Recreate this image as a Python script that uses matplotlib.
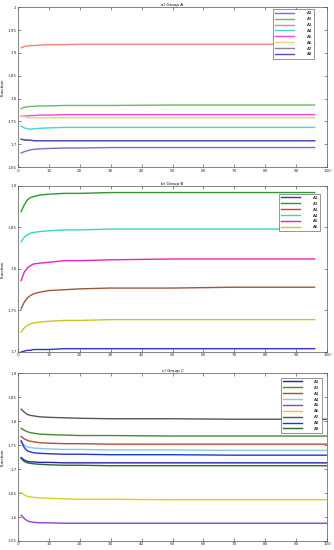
import numpy as np
import matplotlib
matplotlib.use('Agg')
import matplotlib.pyplot as plt
from matplotlib.ticker import FuncFormatter, MultipleLocator

# sample positions (iterations)
x_ab = [1, 2, 3, 4, 5, 7, 10, 15, 20, 30, 50, 70, 96]
x_c = [1, 2, 3, 4, 5, 7, 10, 15, 20, 30, 50, 70, 100]

# a) Group A
a_A1 = [1.681, 1.684, 1.686, 1.688, 1.689, 1.690, 1.691, 1.692, 1.692, 1.693, 1.693, 1.693, 1.693]
a_A2 = [1.778, 1.781, 1.782, 1.783, 1.783, 1.784, 1.784, 1.785, 1.785, 1.785, 1.786, 1.786, 1.786]
a_A3 = [1.911, 1.914, 1.915, 1.916, 1.916, 1.917, 1.918, 1.918, 1.919, 1.919, 1.919, 1.919, 1.919]
a_A4 = [1.740, 1.736, 1.734, 1.733, 1.734, 1.735, 1.736, 1.737, 1.737, 1.737, 1.737, 1.737, 1.737]
a_A5 = [1.761, 1.762, 1.762, 1.763, 1.763, 1.764, 1.764, 1.765, 1.765, 1.765, 1.765, 1.765, 1.765]
a_A6 = [1.763, 1.760, 1.759, 1.758, 1.758, 1.758, 1.758, 1.758, 1.758, 1.758, 1.758, 1.758, 1.758]
a_A7 = [1.711, 1.710, 1.709, 1.709, 1.708, 1.708, 1.708, 1.708, 1.708, 1.708, 1.708, 1.708, 1.708]
a_A8 = [1.711, 1.710, 1.709, 1.709, 1.708, 1.708, 1.708, 1.708, 1.708, 1.708, 1.708, 1.708, 1.708]

# b) Group B
b_A1 = [1.700, 1.701, 1.702, 1.702, 1.703, 1.703, 1.703, 1.704, 1.704, 1.704, 1.704, 1.704, 1.704]
b_A2 = [1.869, 1.877, 1.883, 1.886, 1.887, 1.889, 1.890, 1.891, 1.891, 1.892, 1.892, 1.892, 1.892]
b_A3 = [1.752, 1.760, 1.765, 1.768, 1.770, 1.772, 1.774, 1.775, 1.776, 1.777, 1.777, 1.778, 1.778]
b_A4 = [1.833, 1.838, 1.841, 1.843, 1.844, 1.845, 1.846, 1.847, 1.847, 1.848, 1.848, 1.848, 1.848]
b_A5 = [1.786, 1.796, 1.801, 1.804, 1.806, 1.807, 1.808, 1.810, 1.810, 1.811, 1.812, 1.812, 1.812]
b_A6 = [1.724, 1.729, 1.732, 1.734, 1.735, 1.736, 1.737, 1.738, 1.738, 1.739, 1.739, 1.739, 1.739]

# c) Group C
c_A1 = [1.724, 1.719, 1.716, 1.715, 1.715, 1.714, 1.714, 1.713, 1.713, 1.713, 1.713, 1.713, 1.713]
c_A2 = [1.785, 1.781, 1.778, 1.776, 1.775, 1.773, 1.772, 1.771, 1.770, 1.770, 1.769, 1.769, 1.769]
c_A3 = [1.768, 1.763, 1.760, 1.758, 1.757, 1.755, 1.754, 1.753, 1.753, 1.752, 1.752, 1.752, 1.752]
c_A4 = [1.757, 1.750, 1.746, 1.745, 1.744, 1.743, 1.742, 1.741, 1.741, 1.740, 1.740, 1.739, 1.739]
c_A5 = [1.604, 1.597, 1.592, 1.590, 1.589, 1.588, 1.588, 1.587, 1.587, 1.587, 1.587, 1.587, 1.587]
c_A6 = [1.651, 1.646, 1.643, 1.642, 1.641, 1.640, 1.639, 1.638, 1.637, 1.637, 1.636, 1.636, 1.636]
c_A7 = [1.825, 1.819, 1.814, 1.812, 1.811, 1.809, 1.808, 1.807, 1.806, 1.805, 1.805, 1.804, 1.804]
c_A8 = [1.759, 1.745, 1.738, 1.736, 1.734, 1.733, 1.732, 1.731, 1.731, 1.730, 1.730, 1.729, 1.729]
c_A9 = [1.722, 1.716, 1.713, 1.712, 1.711, 1.710, 1.709, 1.708, 1.708, 1.707, 1.707, 1.707, 1.707]

series_a = [('A1', a_A1, '#7070d0'), ('A2', a_A2, '#66bb66'), ('A3', a_A3, '#ff7f7f'),
            ('A4', a_A4, '#44d8c8'), ('A5', a_A5, '#ff44cc'), ('A6', a_A6, '#ead27a'),
            ('A7', a_A7, '#888888'), ('A8', a_A8, '#5050b8')]
series_b = [('A1', b_A1, '#3333cc'), ('A2', b_A2, '#2e9a2e'), ('A3', b_A3, '#9a5a3a'),
            ('A4', b_A4, '#33d8c0'), ('A5', b_A5, '#ee22bb'), ('A6', b_A6, '#c8c820')]
legend_b_colors = ['#3333cc', '#2e9a2e', '#ee3333', '#33d8c0', '#ee22bb', '#c8c820']
series_c = [('A1', c_A1, '#2222aa'), ('A2', c_A2, '#4a8a2a'), ('A3', c_A3, '#b05030'),
            ('A4', c_A4, '#88c8e8'), ('A5', c_A5, '#8844cc'), ('A6', c_A6, '#d8d020'),
            ('A7', c_A7, '#555555'), ('A8', c_A8, '#2233dd'), ('A9', c_A9, '#2a6a2a')]

fig = plt.figure(figsize=(3.34, 5.5), dpi=100)
fs = 3
lw = 1.0


def style_axis(ax, title, ylim):
    ax.set_xlim(0, 100)
    ax.set_ylim(*ylim)
    ax.xaxis.set_major_locator(MultipleLocator(10))
    ax.yaxis.set_major_locator(MultipleLocator(0.05))
    ax.yaxis.set_major_formatter(FuncFormatter(lambda v, p: '%g' % round(v, 3)))
    ax.tick_params(direction='in', top=True, right=True, length=2, width=0.4,
                   labelsize=fs, pad=1, colors='#333333')
    for sp in ax.spines.values():
        sp.set_linewidth(0.5)
        sp.set_color('#555555')
    ax.set_title(title, fontsize=fs, pad=1)
    ax.set_ylabel('Function', fontsize=fs, labelpad=2)


def add_legend(ax, handles, labels, anchor):
    leg = ax.legend(handles, labels, loc='upper right', bbox_to_anchor=anchor, fontsize=fs,
                    handlelength=4.5, handletextpad=3, labelspacing=0.45, borderpad=0.5,
                    fancybox=False, edgecolor='#444444', framealpha=1)
    leg.get_frame().set_linewidth(0.4)


axA = fig.add_axes([0.054, 0.696, 0.925, 0.291])
for name, vals, col in series_a:
    axA.plot(x_ab, vals, color=col, lw=lw)
style_axis(axA, 'a) Group A', (1.65, 2.0))
add_legend(axA, [plt.Line2D([], [], color=s[2], lw=lw) for s in series_a],
           [s[0] for s in series_a], (0.965, 1.0))

axB = fig.add_axes([0.054, 0.36, 0.925, 0.302])
for name, vals, col in series_b:
    axB.plot(x_ab, vals, color=col, lw=lw)
style_axis(axB, 'b) Group B', (1.70, 1.90))
add_legend(axB, [plt.Line2D([], [], color=c, lw=lw) for c in legend_b_colors],
           [s[0] for s in series_b], (0.985, 0.965))

axC = fig.add_axes([0.054, 0.0164, 0.925, 0.305])
for name, vals, col in series_c:
    axC.plot(x_c, vals, color=col, lw=lw)
style_axis(axC, 'c) Group C', (1.55, 1.90))
add_legend(axC, [plt.Line2D([], [], color=s[2], lw=lw) for s in series_c],
           [s[0] for s in series_c], (0.99, 0.985))

fig.savefig('out.png', dpi=100)
